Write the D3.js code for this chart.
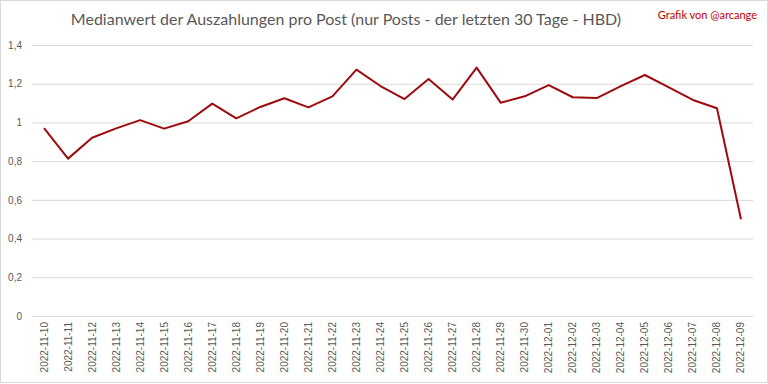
<!DOCTYPE html>
<html>
<head>
<meta charset="utf-8">
<script src="https://cdn.jsdelivr.net/npm/d3@7"></script>
<style>
  body { margin: 0; background: #fff; }
  svg { display: block; font-family: Lato, "Open Sans", sans-serif; }
</style>
</head>
<body>
<svg class="chart" width="768" height="384"></svg>
<script>
// dates and median payout per post (HBD)
var dates = ["2022-11-10", "2022-11-11", "2022-11-12", "2022-11-13", "2022-11-14", "2022-11-15",
    "2022-11-16", "2022-11-17", "2022-11-18", "2022-11-19", "2022-11-20", "2022-11-21",
    "2022-11-22", "2022-11-23", "2022-11-24", "2022-11-25", "2022-11-26", "2022-11-27",
    "2022-11-28", "2022-11-29", "2022-11-30", "2022-12-01", "2022-12-02", "2022-12-03",
    "2022-12-04", "2022-12-05", "2022-12-06", "2022-12-07", "2022-12-08", "2022-12-09"];
var medianValues = [0.970, 0.813, 0.921, 0.969, 1.012, 0.968, 1.006, 1.097, 1.021, 1.080,
    1.125, 1.078, 1.135, 1.273, 1.188, 1.121, 1.224, 1.118, 1.283, 1.102,
    1.135, 1.193, 1.130, 1.126, 1.188, 1.245, 1.181, 1.116, 1.073, 0.500];
var yTicks = [0, 0.2, 0.4, 0.6, 0.8, 1, 1.2, 1.4];

var title = "Medianwert der Auszahlungen pro Post (nur Posts - der letzten  30 Tage - HBD)";
var credit = "Grafik von @arcange";

var svg = d3.select(".chart"),
    margin = { top: 45, right: 15, bottom: 68, left: 32 },
    width = +svg.attr("width") - margin.left - margin.right,
    height = +svg.attr("height") - margin.top - margin.bottom;

// chart border
svg.append("rect")
    .attr("x", 0.5).attr("y", 0.5)
    .attr("width", 767).attr("height", 382)
    .attr("fill", "#fff")
    .attr("stroke", "#d9d9d9");

var g = svg.append("g").attr("transform", "translate(" + margin.left + "," + margin.top + ")");

var x = d3.scaleBand()
    .domain(dates)
    .range([0, width]);

var y = d3.scaleLinear()
    .domain([0, 1.4])
    .range([height, 0]);

var fmt = function (d) { return String(d).replace(".", ","); };

// gridlines + y labels
var yAxis = d3.axisLeft(y)
    .tickValues(yTicks)
    .tickSize(-width)
    .tickPadding(10)
    .tickFormat(fmt);

var gy = g.append("g").attr("class", "y axis").call(yAxis);
gy.select(".domain").remove();
gy.selectAll("line").attr("stroke", "#d9d9d9");
gy.selectAll("text")
    .attr("fill", "#595959")
    .style("font-size", "10px");

// x labels, rotated
var xAxis = d3.axisBottom(x).tickSize(0).tickPadding(6);
var gx = g.append("g")
    .attr("class", "x axis")
    .attr("transform", "translate(0," + height + ")")
    .call(xAxis);
gx.select(".domain").remove();
gx.selectAll("text")
    .attr("fill", "#595959")
    .style("font-size", "10px")
    .attr("text-anchor", "end")
    .attr("transform", "rotate(-90)")
    .attr("x", -6)
    .attr("y", 0)
    .attr("dy", "0.35em");

// the line
var line = d3.line()
    .x(function (d, i) { return x(dates[i]) + x.bandwidth() / 2; })
    .y(function (d) { return y(d); });

g.append("path")
    .datum(medianValues)
    .attr("fill", "none")
    .attr("stroke", "#9e0b0f")
    .attr("stroke-width", 2)
    .attr("stroke-linejoin", "round")
    .attr("d", line);

// title and credit
svg.append("text")
    .attr("x", 346)
    .attr("y", 25)
    .attr("text-anchor", "middle")
    .attr("fill", "#595959")
    .style("font-size", "16px")
    .text(title);

svg.append("text")
    .attr("x", 757)
    .attr("y", 19)
    .attr("text-anchor", "end")
    .attr("fill", "#c00000")
    .style("font-size", "11px")
    .text(credit);
</script>
</body>
</html>
